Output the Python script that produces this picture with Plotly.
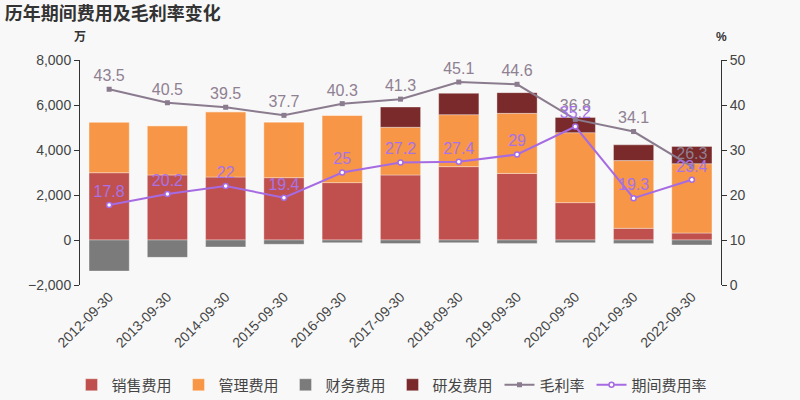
import plotly.graph_objects as go

categories = ["2012-09-30", "2013-09-30", "2014-09-30", "2015-09-30", "2016-09-30",
              "2017-09-30", "2018-09-30", "2019-09-30", "2020-09-30", "2021-09-30", "2022-09-30"]
sales = [2990, 2890, 2800, 2770, 2550, 2890, 3260, 2960, 1660, 520, 310]
admin = [2250, 2190, 2900, 2475, 2990, 2120, 2310, 2670, 3110, 3010, 3080]
finance = [-1380, -770, -310, -190, -120, -160, -120, -150, -120, -150, -220]
rnd = [0, 0, 0, 0, 0, 900, 950, 920, 680, 700, 770]
gross_margin = [43.5, 40.5, 39.5, 37.7, 40.3, 41.3, 45.1, 44.6, 36.8, 34.1, 26.3]
expense_rate = [17.8, 20.2, 22, 19.4, 25, 27.2, 27.4, 29, 35.2, 19.3, 23.4]

FONT = "Liberation Sans, Noto Sans CJK SC, sans-serif"
AXIS = "#333333"
bar_line = dict(color="rgba(255,255,255,0.35)", width=1)

fig = go.Figure()
fig.add_trace(go.Bar(x=categories, y=sales, name="销售费用", legendwidth=62,
                     marker=dict(color="#C0504D", line=bar_line)))
fig.add_trace(go.Bar(x=categories, y=admin, name="管理费用", legendwidth=62,
                     marker=dict(color="#F79646", line=bar_line)))
fig.add_trace(go.Bar(x=categories, y=finance, name="财务费用", legendwidth=62,
                     marker=dict(color="#7B7B7B", line=bar_line)))
fig.add_trace(go.Bar(x=categories, y=rnd, name="研发费用", legendwidth=62,
                     marker=dict(color="#7A2A2A", line=bar_line)))
fig.add_trace(go.Scatter(x=categories, y=gross_margin, name="毛利率", yaxis="y2", legendwidth=47,
                         mode="lines+markers+text", text=[str(v) for v in gross_margin],
                         textposition="top center", textfont=dict(color="#8F8092", size=16),
                         line=dict(color="#8B7B8E", width=2),
                         marker=dict(symbol="square", size=5, color="#8B7B8E")))
fig.add_trace(go.Scatter(x=categories, y=expense_rate, name="期间费用率", yaxis="y2", legendwidth=76,
                         mode="lines+markers+text", text=[str(v) for v in expense_rate],
                         textposition="top center", textfont=dict(color="#A872E8", size=16),
                         line=dict(color="#A66BE3", width=2),
                         marker=dict(symbol="circle", size=5, color="white",
                                     line=dict(color="#A66BE3", width=1.5))))

fig.update_layout(
    width=800, height=400,
    paper_bgcolor="#F8F8F8", plot_bgcolor="#F8F8F8",
    font=dict(family=FONT, color="#444444", size=12),
    barmode="relative", bargap=0.31,
    margin=dict(l=80, r=79, t=60, b=115),
    title=dict(text="<b>历年期间费用及毛利率变化</b>", x=0.006, xref="container", xanchor="left",
               y=1 - 14 / 400, yref="container", yanchor="middle",
               font=dict(size=18, color="#333333", family=FONT)),
    xaxis=dict(type="category", range=[-0.5, 10.5], tickangle=-45, showline=False,
               ticks="", showgrid=False, tickfont=dict(size=14, color="#444444")),
    xaxis2=dict(overlaying="x", anchor="free", position=0.2, range=[-0.5, 10.5],
                tick0=-0.5, dtick=1, ticks="outside", ticklen=5, tickcolor=AXIS,
                showticklabels=False, showgrid=False, showline=True, linecolor=AXIS,
                linewidth=1, zeroline=False),
    yaxis=dict(range=[-2000, 8000], dtick=2000, tickformat=",", showline=True,
               linecolor=AXIS, ticks="outside", ticklen=5, tickcolor=AXIS, showgrid=False,
               zeroline=False, tickfont=dict(size=14, color="#444444")),
    yaxis2=dict(range=[0, 50], dtick=10, overlaying="y", side="right", showline=True,
                linecolor=AXIS, ticks="outside", ticklen=5, tickcolor=AXIS, showgrid=False,
                zeroline=False, tickfont=dict(size=14, color="#444444")),
    legend=dict(orientation="h", xref="container", x=0.49, xanchor="center",
                yref="container", y=1 - 385 / 400, yanchor="middle",
                font=dict(size=15, color="#444444"), itemwidth=30, tracegroupgap=0),
    annotations=[
        dict(text="<b>万</b>", xref="paper", yref="paper", x=0, y=1 + 23 / 225,
             showarrow=False, font=dict(size=12, color="#333333"), xanchor="center", yanchor="middle"),
        dict(text="<b>%</b>", xref="paper", yref="paper", x=1, y=1 + 23 / 225,
             showarrow=False, font=dict(size=12, color="#333333"), xanchor="center", yanchor="middle"),
    ],
)
fig.write_html("out.html", config={"displayModeBar": False},
               post_script="document.body.style.margin='0';document.body.style.background='#F8F8F8';")
